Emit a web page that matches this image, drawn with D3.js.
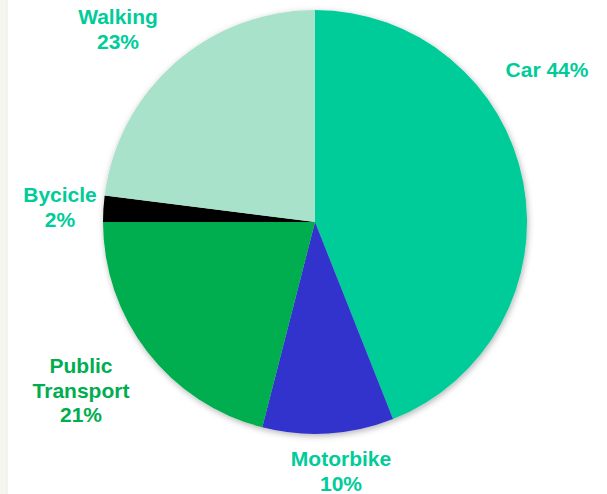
<!DOCTYPE html>
<html><head><meta charset="utf-8">
<script src="https://cdn.jsdelivr.net/npm/d3@7"></script>
<style>html,body{margin:0;padding:0;background:#fff}svg{display:block}</style>
</head><body>
<svg id="c" width="607" height="494"></svg>
<script>
const categories = ["Car", "Motorbike", "Public Transport", "Bycicle", "Walking"];
const values = [44, 10, 21, 2, 23];
const colors = ["#00CC99", "#3333CC", "#00AD4F", "#000000", "#A9E2CB"];
const labelLines = [["Car 44%"], ["Motorbike", "10%"], ["Public", "Transport", "21%"], ["Bycicle", "2%"], ["Walking", "23%"]];
const labelColors = ["#00CC99", "#00CC99", "#00AD4F", "#00CC99", "#00CC99"];
const labelPos = [[547, 77], [341, 466], [81, 373], [60, 202], [118, 24]];

const svg = d3.select("#c");
svg.append("rect").attr("x",0).attr("y",0).attr("width",7).attr("height",494).attr("fill","#f6f6f1");
svg.append("line").attr("x1",7).attr("x2",7).attr("y1",0).attr("y2",494).attr("stroke","#ecebe3").attr("stroke-width",1);

const defs = svg.append("defs");
const f = defs.append("filter").attr("id","sh").attr("x","-10%").attr("y","-10%").attr("width","120%").attr("height","120%");
f.append("feDropShadow").attr("dx",1).attr("dy",2).attr("stdDeviation",3).attr("flood-color","#000").attr("flood-opacity",0.3);

const cx = 315, cy = 222, r = 212;
const pie = d3.pie().sort(null).value(d => d)(values);
const arc = d3.arc().innerRadius(0).outerRadius(r);
const g = svg.append("g").attr("transform", `translate(${cx},${cy})`).attr("filter","url(#sh)");
g.selectAll("path").data(pie).join("path")
  .attr("d", arc).attr("fill", (d,i) => colors[i]);

const lg = svg.append("g").attr("font-family","Liberation Sans, Arial, sans-serif")
  .attr("font-weight","bold").attr("font-size",21).attr("text-anchor","middle");
categories.forEach((c, i) => {
  const t = lg.append("text").attr("x", labelPos[i][0]).attr("y", labelPos[i][1]).attr("fill", labelColors[i]);
  labelLines[i].forEach((ln, j) => {
    t.append("tspan").attr("x", labelPos[i][0]).attr("dy", j === 0 ? 0 : 24.5).text(ln);
  });
});
</script>
</body></html>
